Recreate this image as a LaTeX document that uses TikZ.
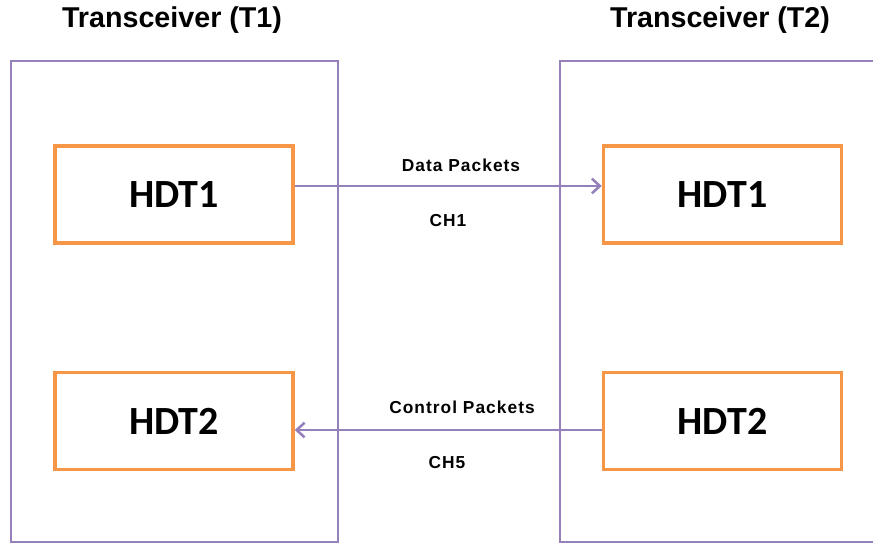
\documentclass[tikz,border=0pt]{standalone}
\usepackage{fontspec}
\setmainfont{Liberation Sans}
\newfontfamily\hdtfont{Carlito}
\newfontfamily\chanfont[LetterSpace=6]{Liberation Sans}
\usetikzlibrary{arrows.meta,positioning}
\definecolor{frame}{HTML}{9580BA}
\definecolor{unit}{HTML}{F79646}

\begin{document}
\begin{tikzpicture}[
 x=0.75pt,y=-0.75pt,
 transceiver/.style={draw=frame,line width=1.9pt,minimum width=245pt,minimum height=360.75pt,inner sep=0pt},
 hdt/.style={draw=unit,line width=2.6pt,minimum width=178.5pt,minimum height=72.75pt,font=\hdtfont\bfseries\fontsize{30}{32}\selectfont},
 title/.style={font=\fontsize{21.5}{23}\selectfont\bfseries},
 chan/.style={font=\chanfont\fontsize{13}{15}\selectfont\bfseries},
 arrow/.style={-{Straight Barb[length=6pt,width=11pt]},draw=frame,line width=1.9pt}
]
\useasboundingbox (0,0) rectangle (873,544);
\node[transceiver] (t1) at (174.5,301.5) {};
\node[transceiver,minimum width=240pt] (t2) at (720,301.5) {};
\node[title] (t1name) at (172,20) {Transceiver (T1)};
\node[title] (t2name) at (720,20) {Transceiver (T2)};
\node[hdt] (hl1) at (174,194.5) {HDT1};
\node[hdt] (hl2) at (174,421) {HDT2};
\node[hdt] (hr1) at (722.5,194.5) {HDT1};
\node[hdt] (hr2) at (722.5,421) {HDT2};
\draw[arrow] ([yshift=6.4pt]hl1.east) -- ([yshift=6.4pt]hr1.west);
\draw[arrow] ([yshift=-6.75pt]hr2.west) -- ([yshift=-6.75pt]hl2.east);
\node[chan] (data) at (461,165) {Data Packets};
\node[chan] (ch1) at (448,221) {CH1};
\node[chan] (ctrl) at (462,407) {Control Packets};
\node[chan] (ch5) at (447,463) {CH5};
\end{tikzpicture}
\end{document}
